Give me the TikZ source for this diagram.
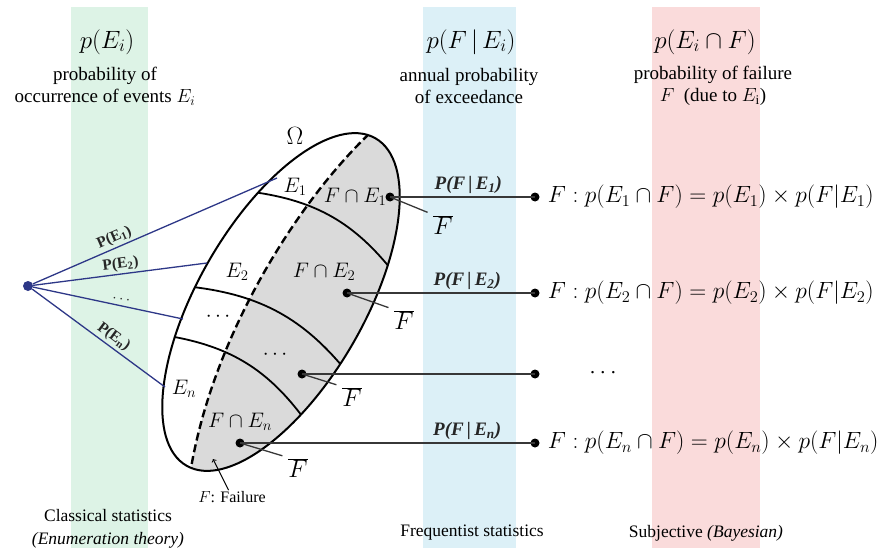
\documentclass[tikz,border=0pt]{standalone}
\usepackage{fix-cm}
\usepackage{fontspec}
\setmainfont{Liberation Serif}
\usetikzlibrary{positioning}
\definecolor{bandgreen}{RGB}{221,243,230}
\definecolor{bandblue}{RGB}{220,240,247}
\definecolor{bandred}{RGB}{250,219,219}
\definecolor{failgray}{RGB}{218,218,218}
\definecolor{linkblue}{RGB}{45,55,135}
\definecolor{connline}{RGB}{55,55,55}

\begin{document}
\begin{tikzpicture}[x=1pt,y=1pt,
  head/.style={inner sep=0pt,font=\fontsize{25}{29}\selectfont},
  note/.style={inner sep=0pt,align=center,font=\fontsize{19}{22}\selectfont},
  foot/.style={inner sep=0pt,align=center,font=\fontsize{17.5}{23}\selectfont},
  lbl/.style={inner sep=1pt,font=\fontsize{21}{24}\selectfont},
  fbar/.style={inner sep=1pt,font=\fontsize{25}{30}\selectfont},
  plab/.style={inner sep=2pt,text=black!85,font=\fontsize{15.5}{18}\selectfont\bfseries},
  flab/.style={inner sep=3pt,above,text=black!85,font=\fontsize{19}{20}\selectfont\bfseries\itshape},
  formula/.style={inner sep=0pt,font=\fontsize{23.5}{28}\selectfont},
  dot/.style={circle,fill=black,inner sep=0pt,minimum size=9pt},
  link/.style={linkblue,line width=1.3pt},
  conn/.style={connline,line width=1.3pt}]
  \useasboundingbox (0,0) rectangle (882,-548);
  % bands
  \fill[bandgreen] (71,-7) rectangle (148,-548);
  \fill[bandblue]  (423,-7) rectangle (516,-548);
  \fill[bandred]   (652,-7) rectangle (760,-548);

  % headings
  \node[head] (hgreen) at (107,-42) {$p\bigl(E_i\bigr)$};
  \node[note] (tgreen) at (105,-86) {probability of\\occurrence of events $E_i$};
  \node[head] (hblue) at (471,-42) {$p\bigl(F\,|\,E_i\bigr)$};
  \node[note] (tblue) at (469,-86) {annual probability\\of exceedance};
  \node[head] (hred) at (705,-42) {$p\bigl(E_i\cap F\bigr)$};
  \node[note] (tred) at (713,-86) {probability of failure\\$F$~~(due to $E_{\mathrm{i}}$)};

  % sample space
  \def\ctr{(281,-302)}
  \begin{scope}
    \clip[rotate around={60:\ctr}] \ctr ellipse [x radius=189, y radius=83];
    \fill[failgray] (369,-134) .. controls (300,-200) and (215,-330) .. (191,-468)
      -- (191,-500) -- (420,-500) -- (420,-120) -- (369,-120) -- cycle;
    \draw[line width=2.4pt,dash pattern=on 8pt off 4pt] (369,-134) .. controls (300,-200) and (215,-330) .. (191,-468);
    \draw[line width=1.8pt] (253,-192) to[bend left=22] (394,-273);
    \draw[line width=1.8pt] (193,-287) to[bend left=22] (347,-372);
    \draw[line width=1.8pt] (169,-336) to[bend left=22] (305,-420);
  \end{scope}
  \draw[line width=2pt,rotate around={60:\ctr}] \ctr ellipse [x radius=189, y radius=83];

  \node[fbar] (omega) at (295,-136) {$\Omega$};
  \node[lbl] (e1) at (295,-187) {$E_1$};
  \node[lbl] (e2) at (237,-272) {$E_2$};
  \node[lbl] (edots) at (218,-317) {$\cdots$};
  \node[lbl] (en) at (184,-389) {$E_n$};
  \node[lbl] (fe1) at (355,-197) {$F\cap E_1$};
  \node[lbl] (fe2) at (324,-272) {$F\cap E_2$};
  \node[lbl] (fedots) at (275,-355) {$\cdots$};
  \node[lbl] (fen) at (240,-422) {$F\cap E_n$};

  % classical branch
  \node[circle,fill=linkblue,inner sep=0pt,minimum size=10pt] (src) at (28,-286) {};
  \coordinate (o1) at (277,-178);
  \coordinate (o2) at (207,-263);
  \coordinate (o3) at (183,-319);
  \coordinate (o4) at (165,-387);
  \draw[link] (src) -- node[plab,pos=0.35,above,sloped] {P(E\textsubscript{1})} (o1);
  \draw[link] (src) -- node[plab,pos=0.51,above,sloped] {P(E\textsubscript{2})} (o2);
  \draw[link] (src) -- node[plab,pos=0.58,above,sloped] {$\cdots$} (o3);
  \draw[link] (src) -- node[plab,pos=0.57,above,sloped] {P(E\textsubscript{n})} (o4);

  % failure points and frequentist branch
  \node[dot] (d1) at (390,-197) {};
  \node[dot] (d2) at (347,-293) {};
  \node[dot] (d3) at (302,-374) {};
  \node[dot] (d4) at (240,-443) {};
  \node[dot] (r1) at (535,-197) {};
  \node[dot] (r2) at (535,-293) {};
  \node[dot] (r3) at (535,-374) {};
  \node[dot] (r4) at (535,-443) {};
  \node[fbar] (b1) at (443,-225) {$\overline{F}$};
  \node[fbar] (b2) at (404,-320) {$\overline{F}$};
  \node[fbar] (b3) at (352,-397) {$\overline{F}$};
  \node[fbar] (b4) at (298,-468) {$\overline{F}$};
  \foreach \i in {1,...,4} {
    \draw[conn,shorten >=5pt] (d\i.center) -- (b\i.north west);
  }
  \draw[conn] (d1.center) -- node[flab,pos=0.54] {P(F\,|\,E\textsubscript{1})} (r1.center);
  \draw[conn] (d2.center) -- node[flab,pos=0.64] {P(F\,|\,E\textsubscript{2})} (r2.center);
  \draw[conn] (d3.center) -- (r3.center);
  \draw[conn] (d4.center) -- node[flab,pos=0.77] {P(F\,|\,E\textsubscript{n})} (r4.center);

  % Bayesian results
  \node[formula,right=8pt of r1] (f1) {$F:p\bigl(E_1\cap F\bigr)=p\bigl(E_1\bigr)\times p\bigl(F\big|E_1\bigr)$};
  \node[formula,right=8pt of r2] (f2) {$F:p\bigl(E_2\cap F\bigr)=p\bigl(E_2\bigr)\times p\bigl(F\big|E_2\bigr)$};
  \node[formula] (f3) at (603,-373) {$\cdots$};
  \node[formula,right=8pt of r4] (f4) {$F:p\bigl(E_n\cap F\bigr)=p\bigl(E_n\bigr)\times p\bigl(F\big|E_n\bigr)$};

  % failure label
  \node[inner sep=1pt,font=\fontsize{16}{18}\selectfont] (fail) at (232,-497) {$F$: Failure};
  \coordinate (failtip) at (213,-459);
  \draw[line width=1pt,->] (fail) -- (failtip);

  % bottom captions
  \node[foot] (cls) at (108,-529) {Classical statistics\\\textit{(Enumeration theory)}};
  \node[foot] (freq) at (472,-533) {Frequentist statistics};
  \node[foot] (bayes) at (706,-533) {Subjective \textit{(Bayesian)}};
\end{tikzpicture}
\end{document}
